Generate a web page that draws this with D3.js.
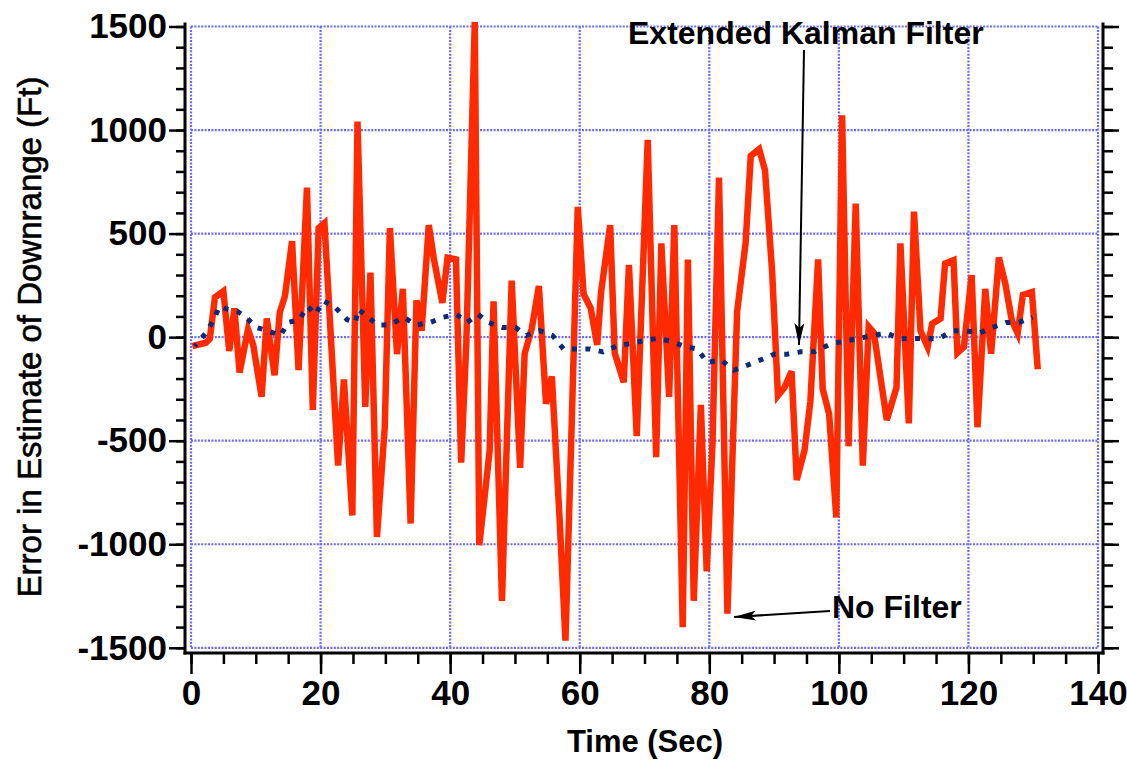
<!DOCTYPE html>
<html>
<head>
<meta charset="utf-8">
<script src="https://cdn.jsdelivr.net/npm/d3@7"></script>
<style>
  body { margin: 0; background: #fff; }
  text { font-family: "Liberation Sans", Arial, Helvetica, sans-serif; fill: #000; }
</style>
</head>
<body>
<script>
// Unfiltered error (red line)
var noFilterTime = [0.2, 2.3, 2.9, 3.7, 5.0, 5.9, 6.7, 7.5, 8.8, 9.6, 10.9, 11.7, 12.9, 13.7, 14.5, 15.6, 16.6, 17.9, 18.8, 19.7,
  20.6, 22.7, 23.6, 24.9, 25.7, 26.9, 27.7, 28.7, 29.9, 30.7, 31.8, 32.7, 33.9, 34.8, 35.6, 36.7, 37.5, 38.8, 39.6, 40.9,
  41.7, 42.5, 43.8, 44.5, 46.1, 46.7, 48.0, 49.5, 50.8, 51.5, 52.6, 53.7, 54.8, 55.7, 56.9, 57.8, 58.7, 59.7, 60.6, 61.7,
  62.7, 63.3, 64.7, 65.4, 66.8, 67.6, 68.8, 70.5, 71.8, 72.6, 73.8, 74.6, 75.9, 76.7, 77.6, 78.7, 79.6, 80.5, 81.5, 82.8,
  84.3, 85.6, 86.4, 87.7, 88.6, 89.7, 90.6, 91.6, 92.7, 93.5, 94.7, 95.6, 96.8, 97.5, 98.5, 99.6, 100.5, 101.5, 102.6, 103.7,
  104.6, 105.4, 107.4, 108.9, 109.5, 110.8, 111.6, 112.6, 113.7, 114.4, 115.7, 116.4, 117.7, 118.3, 119.3, 120.5, 121.4, 122.6, 123.5, 124.7,
  125.7, 126.7, 127.6, 128.4, 129.8, 130.7];
var noFilterError = [-43, -27, -8, 192, 222, -67, 139, -171, 37, -37, -288, 90, -184, 120, 198, 463, -159, 722, -351, 527,
  551, -620, -204, -861, 1041, -337, 312, -965, -439, 527, -82, 233, -900, 178, 31, 541, 375, 165, 384, 375,
  -606, -27, 1522, -1004, -547, 173, -1273, 273, -631, -80, 41, 247, -322, -190, -880, -1465, -488, 629, 208, 139,
  -37, 218, 541, -76, -218, 349, -478, 953, -580, 453, -288, 541, -1400, 375, -1273, -327, -1131, -508, 771, -1335,
  124, 453, 875, 908, 806, 316, -282, -243, -165, -690, -547, -312, 375, -249, -371, -871, 1071, -527, 645, -620,
  51, 22, -400, -243, 453, -416, 606, 31, -47, 65, 90, 355, 371, -76, -47, 300, -435, 233, -80, 384,
  257, 80, 18, 204, 218, -155];

// Extended Kalman filter error (blue dotted line)
var kalmanTime = [0.6, 2.3, 3.5, 4.4, 5.6, 7.2, 8.5, 10.1, 11.8, 13.8, 15.0, 16.7, 18.0, 19.2, 20.4, 22.1, 24.1, 25.4, 25.8, 27.4,
  28.7, 30.7, 32.8, 34.8, 36.9, 38.9, 41.0, 42.6, 44.3, 45.9, 48.0, 50.1, 51.7, 53.8, 55.8, 57.5, 59.5, 61.6, 63.6, 65.7,
  67.8, 69.8, 71.9, 73.9, 76.0, 78.1, 79.7, 81.8, 83.8, 85.9, 87.9, 90.0, 92.0, 94.1, 96.2, 97.0, 99.0, 101.1, 103.1, 105.2,
  107.3, 109.3, 111.4, 113.4, 115.5, 117.6, 119.6, 121.7, 123.7, 125.8, 127.8, 129.9];
var kalmanError = [-43, 20, 84, 149, 135, 124, 96, 47, 31, 8, 71, 84, 149, 110, 175, 149, 84, 71, 135, 96,
  59, 59, 96, 59, 71, 96, 110, 71, 110, 71, 47, 47, 8, 31, 8, -57, -57, -57, -71, -43,
  -31, -18, -6, -18, -43, -57, -122, -110, -159, -135, -110, -82, -82, -71, -71, -57, -31, -18, -6, 8,
  20, -6, -6, -6, -6, 31, 31, 20, 47, 71, 71, 96];

var xTicks = [0, 20, 40, 60, 80, 100, 120, 140];
var xMinorTicks = d3.range(0, 141, 5);
var yTicks = [-1500, -1000, -500, 0, 500, 1000, 1500];
var yMinorTicks = d3.range(-1500, 1501, 100);

window.onload = function(){
  var w = 1127, h = 760;
  var container = d3.select("body")
    .append("svg")
    .attr("width", w)
    .attr("height", h)
    .style("background-color", "#fff");

  var x = d3.scaleLinear().domain([0, 140]).range([191, 1098]);
  var y = d3.scaleLinear().domain([-1500, 1500]).range([647.8, 26.5]);

  var axisLeftX = 185, axisRightX = 1103, axisBottomY = 653;
  var plainNumber = function(d){ return String(d); };

  // dotted blue grid
  var grid = container.append("g").attr("class", "grid")
    .style("stroke", "#6a6aff")
    .style("stroke-width", 2.2)
    .style("stroke-dasharray", "2,1.4");

  grid.selectAll(".vgrid")
    .data(xTicks)
    .enter()
    .append("line")
    .attr("x1", function(d){ return x(d); })
    .attr("x2", function(d){ return x(d); })
    .attr("y1", y(1500))
    .attr("y2", y(-1500));

  grid.selectAll(".hgrid")
    .data(yTicks)
    .enter()
    .append("line")
    .attr("x1", x(0))
    .attr("x2", x(140))
    .attr("y1", function(d){ return y(d); })
    .attr("y2", function(d){ return y(d); });

  // axes: minor ticks first, then major ticks with labels
  var leftMinor = container.append("g")
    .attr("transform", "translate(" + axisLeftX + ",0)")
    .call(d3.axisLeft(y).tickValues(yMinorTicks).tickSize(9).tickFormat(""));
  var leftMajor = container.append("g")
    .attr("transform", "translate(" + axisLeftX + ",0)")
    .call(d3.axisLeft(y).tickValues(yTicks).tickSize(16).tickPadding(2).tickFormat(plainNumber));

  var rightMinor = container.append("g")
    .attr("transform", "translate(" + axisRightX + ",0)")
    .call(d3.axisRight(y).tickValues(yMinorTicks).tickSize(10).tickFormat(""));
  var rightMajor = container.append("g")
    .attr("transform", "translate(" + axisRightX + ",0)")
    .call(d3.axisRight(y).tickValues(yTicks).tickSize(16).tickFormat(""));

  var bottomMinor = container.append("g")
    .attr("transform", "translate(0," + axisBottomY + ")")
    .call(d3.axisBottom(x).tickValues(xMinorTicks).tickSize(11).tickFormat(""));
  var bottomMajor = container.append("g")
    .attr("transform", "translate(0," + axisBottomY + ")")
    .call(d3.axisBottom(x).tickValues(xTicks).tickSize(21).tickPadding(6).tickFormat(plainNumber));

  container.selectAll(".domain").remove();
  container.selectAll(".tick line")
    .style("stroke", "#000")
    .style("stroke-width", 2.5);
  container.selectAll(".tick text")
    .style("font-size", "35px")
    .style("font-weight", "bold");

  // black axis lines
  var frame = container.append("g").style("stroke", "#000").style("stroke-width", 3);
  frame.append("line").attr("x1", axisLeftX).attr("x2", axisLeftX).attr("y1", y(1500) - 4).attr("y2", axisBottomY + 1.5);
  frame.append("line").attr("x1", axisRightX).attr("x2", axisRightX).attr("y1", y(1500) - 4).attr("y2", axisBottomY + 1.5);
  frame.append("line").attr("x1", axisLeftX - 1.5).attr("x2", axisRightX + 1.5).attr("y1", axisBottomY).attr("y2", axisBottomY);

  // series
  var seriesLine = d3.line()
    .x(function(d){ return x(d[0]); })
    .y(function(d){ return y(d[1]); });

  container.append("path")
    .datum(d3.zip(noFilterTime, noFilterError))
    .attr("class", "noFilter")
    .attr("d", seriesLine)
    .style("fill", "none")
    .style("stroke", "#ff2a00")
    .style("stroke-width", 6.5)
    .style("stroke-linejoin", "miter")
    .style("stroke-miterlimit", 4);

  container.append("path")
    .datum(d3.zip(kalmanTime, kalmanError))
    .attr("class", "kalman")
    .attr("d", seriesLine)
    .style("fill", "none")
    .style("stroke", "#0c2a78")
    .style("stroke-width", 5)
    .style("stroke-dasharray", "5,8.5")
    .style("stroke-dashoffset", 2.5);

  // annotations with arrows
  container.append("defs").append("marker")
    .attr("id", "head")
    .attr("viewBox", "0 0 22 10")
    .attr("refX", 22)
    .attr("refY", 5)
    .attr("markerWidth", 22)
    .attr("markerHeight", 10)
    .attr("markerUnits", "userSpaceOnUse")
    .attr("orient", "auto")
    .append("path")
    .attr("d", "M0,0 L22,5 L0,10 L5,5 Z")
    .style("fill", "#000");

  container.append("line")
    .attr("x1", 804).attr("y1", 50)
    .attr("x2", 799).attr("y2", 345)
    .style("stroke", "#000").style("stroke-width", 2)
    .attr("marker-end", "url(#head)");

  container.append("line")
    .attr("x1", 830).attr("y1", 611)
    .attr("x2", 734).attr("y2", 617)
    .style("stroke", "#000").style("stroke-width", 2)
    .attr("marker-end", "url(#head)");

  container.append("text")
    .attr("x", 628).attr("y", 44)
    .style("font-size", "32px").style("font-weight", "bold")
    .text("Extended Kalman Filter");

  container.append("text")
    .attr("x", 832).attr("y", 618)
    .style("font-size", "32px").style("font-weight", "bold")
    .text("No Filter");

  // axis titles
  container.append("text")
    .attr("text-anchor", "middle")
    .attr("x", 645).attr("y", 752)
    .style("font-size", "31px").style("font-weight", "bold")
    .text("Time (Sec)");

  container.append("text")
    .attr("text-anchor", "middle")
    .attr("transform", "translate(41,337) rotate(-90)")
    .style("font-size", "33px")
    .style("stroke", "#000")
    .style("stroke-width", 0.6)
    .text("Error in Estimate of Downrange (Ft)");
};
</script>
</body>
</html>
